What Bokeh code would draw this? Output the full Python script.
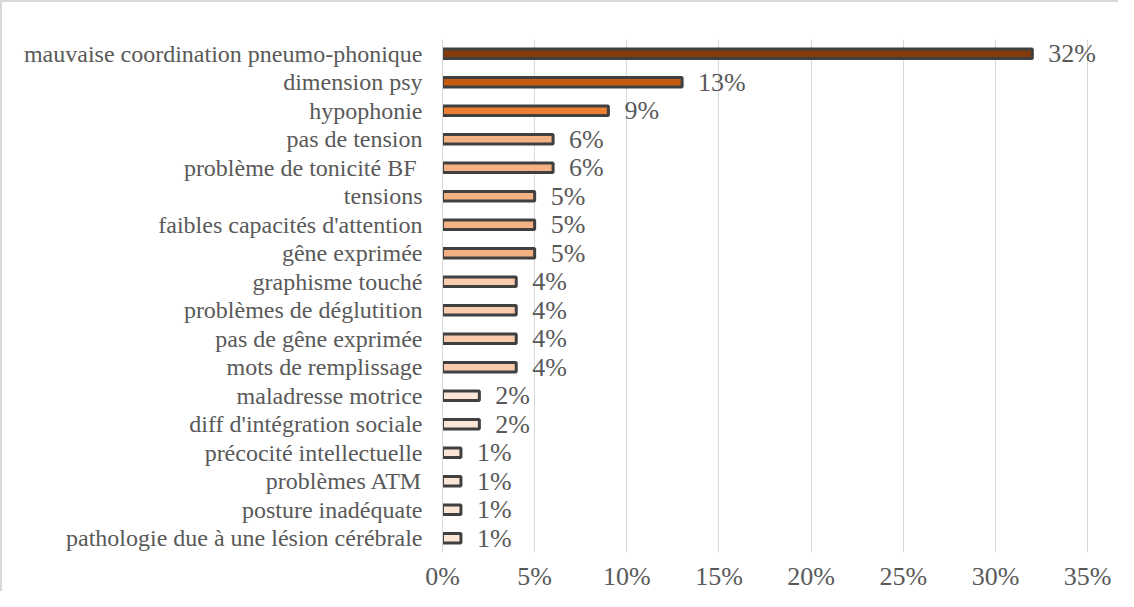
from bokeh.plotting import figure
from bokeh.models import ColumnDataSource, FactorRange, Range1d, NumeralTickFormatter, FixedTicker, LabelSet
from bokeh.embed import file_html
from bokeh.resources import INLINE

categories = [
    "mauvaise coordination pneumo-phonique",
    "dimension psy",
    "hypophonie",
    "pas de tension",
    "problème de tonicité BF ",
    "tensions",
    "faibles capacités d'attention",
    "gêne exprimée",
    "graphisme touché",
    "problèmes de déglutition",
    "pas de gêne exprimée",
    "mots de remplissage",
    "maladresse motrice",
    "diff d'intégration sociale",
    "précocité intellectuelle",
    "problèmes ATM",
    "posture inadéquate",
    "pathologie due à une lésion cérébrale",
]
values = [0.32, 0.13, 0.09, 0.06, 0.06, 0.05, 0.05, 0.05, 0.04, 0.04, 0.04, 0.04,
          0.02, 0.02, 0.01, 0.01, 0.01, 0.01]
value_labels = ["32%", "13%", "9%", "6%", "6%", "5%", "5%", "5%", "4%", "4%", "4%", "4%",
                "2%", "2%", "1%", "1%", "1%", "1%"]
colors = ["#843C0C", "#C55A11", "#ED7D31", "#F4B183", "#F4B183", "#F4B183", "#F4B183",
          "#F4B183", "#F8CBAD", "#F8CBAD", "#F8CBAD", "#F8CBAD", "#FBE5D6", "#FBE5D6",
          "#FBE5D6", "#FBE5D6", "#FBE5D6", "#FBE5D6"]
x_ticks = [0, 0.05, 0.10, 0.15, 0.20, 0.25, 0.30, 0.35]

FONT = "Liberation Serif"
TXT = "#595959"

src = ColumnDataSource(dict(cat=categories, val=values, lab=value_labels, col=colors))

p = figure(
    width=1118, height=591,
    y_range=FactorRange(factors=list(reversed(categories))),
    x_range=Range1d(0, 0.3635),
    output_backend="svg", toolbar_location=None,
    min_border_left=440, min_border_right=8, min_border_top=37, min_border_bottom=10,
)
p.styles = {"border-top": "2px solid #d9d9d9", "border-left": "2px solid #d9d9d9",
            "box-sizing": "border-box"}
p.outline_line_color = None
p.background_fill_color = "white"
p.border_fill_color = "white"

p.hbar(y="cat", right="val", left=0, height=0.33, source=src,
       fill_color="col", line_color="#404040", line_width=3)

labels = LabelSet(x="val", y="cat", text="lab", source=src, x_offset=16,
                  text_font=FONT, text_font_size="26px", text_color=TXT,
                  text_baseline="middle", text_align="left")
p.add_layout(labels)

p.xaxis.ticker = FixedTicker(ticks=x_ticks)
p.xaxis.formatter = NumeralTickFormatter(format="0%")
p.xaxis.axis_line_color = None
p.xaxis.major_tick_line_color = None
p.xaxis.minor_tick_line_color = None
p.xaxis.major_label_text_font = FONT
p.xaxis.major_label_text_font_size = "26px"
p.xaxis.major_label_text_color = TXT
p.xaxis.major_label_standoff = 3

p.yaxis.axis_line_color = "#d9d9d9"
p.yaxis.axis_line_width = 1
p.yaxis.major_tick_line_color = None
p.yaxis.minor_tick_line_color = None
p.yaxis.major_label_text_font = FONT
p.yaxis.major_label_text_font_size = "24px"
p.yaxis.major_label_text_color = TXT
p.yaxis.major_label_standoff = 14

p.xgrid.grid_line_color = "#d9d9d9"
p.xgrid.grid_line_width = 1
p.ygrid.grid_line_color = None

open("out.html", "w").write(file_html(p, INLINE))
